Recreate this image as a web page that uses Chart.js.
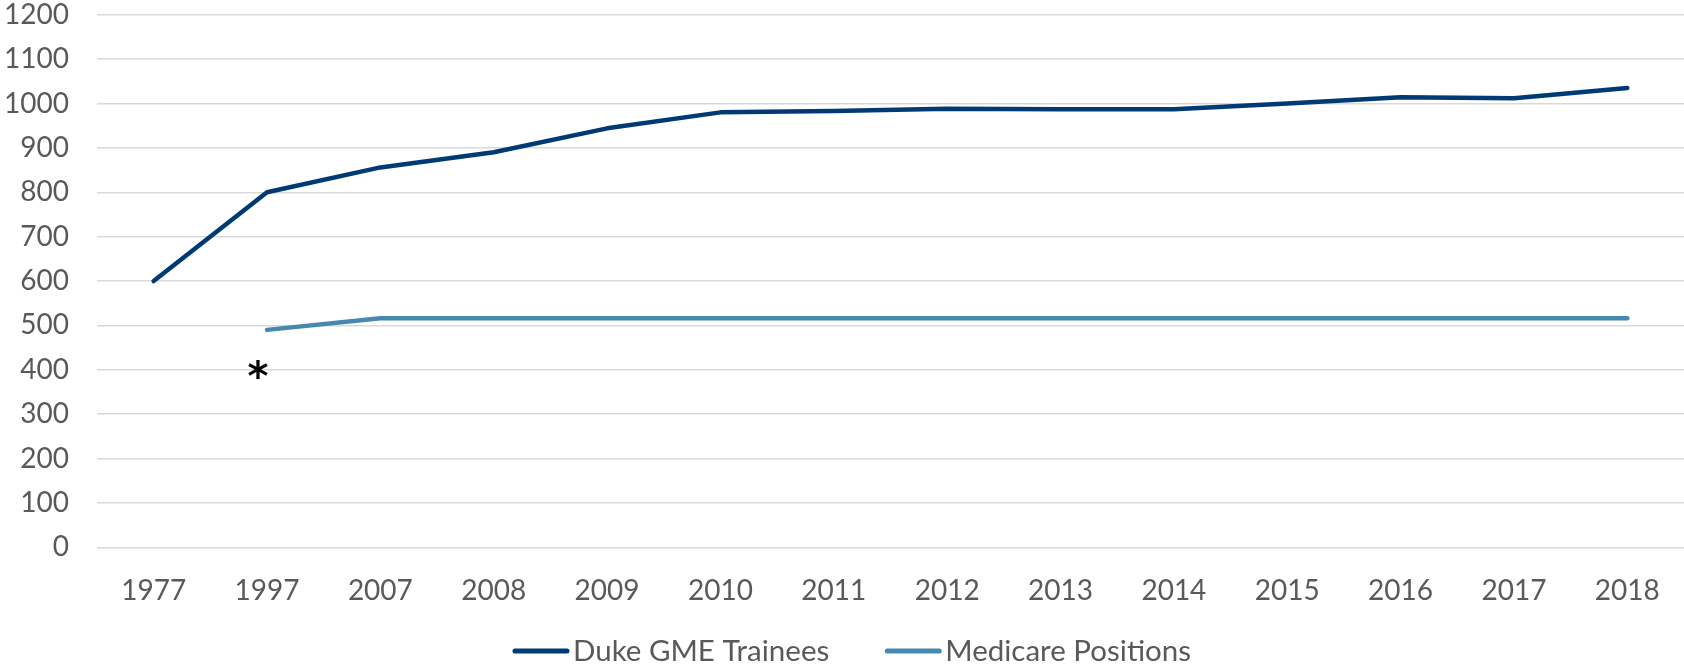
<!DOCTYPE html>
<html>
<head>
<meta charset="utf-8">
<script src="https://cdn.jsdelivr.net/npm/chart.js@4.4.0/dist/chart.umd.min.js"></script>
<style>
  html, body { margin: 0; padding: 0; background: #fff; }
  #wrap { width: 1684px; height: 664px; }
</style>
</head>
<body>
<div id="wrap"><canvas id="chart" width="1684" height="664"></canvas></div>
<script>
const years = ['1977', '1997', '2007', '2008', '2009', '2010', '2011', '2012', '2013', '2014', '2015', '2016', '2017', '2018'];
const dukeTrainees = [600, 800, 856, 890, 944, 980, 983, 988, 987, 987, 1000, 1014, 1012, 1035];
const medicarePositions = [null, 490, 516, 516, 516, 516, 516, 516, 516, 516, 516, 516, 516, 516];
const yTicks = [0, 100, 200, 300, 400, 500, 600, 700, 800, 900, 1000, 1100, 1200];

const tickColor = '#595959';
const font = { family: 'Lato', size: 28 };

// the "*" note under the 1997 Medicare point
const asteriskPlugin = {
  id: 'asterisk',
  afterDatasetsDraw(chart) {
    const x = chart.scales.x.getPixelForValue(1) - 9;
    const y = chart.scales.y.getPixelForValue(400);
    const c = chart.ctx;
    c.save();
    c.font = 'bold 40px "DejaVu Sans"';
    c.fillStyle = '#000';
    c.textAlign = 'center';
    c.textBaseline = 'middle';
    c.fillText('*', x, y + 10);
    c.restore();
  }
};

// legend drawn by hand: long line swatch, small gap to text, wide gap between items
const legendPlugin = {
  id: 'lineLegend',
  afterDraw(chart) {
    const c = chart.ctx;
    const sw = 56, gap = 4, spacing = 56;
    c.save();
    c.font = '29.5px Lato';
    c.textBaseline = 'middle';
    const items = chart.data.datasets.map(ds => ({ text: ds.label, color: ds.borderColor, w: c.measureText(ds.label).width }));
    const total = items.reduce((s, it) => s + sw + gap + it.w, 0) + spacing * (items.length - 1);
    let x = chart.width / 2 + 10 - total / 2;
    const y = 651;
    items.forEach(it => {
      c.strokeStyle = it.color;
      c.lineWidth = 5;
      c.lineCap = 'round';
      c.beginPath();
      c.moveTo(x + 2, y);
      c.lineTo(x + sw - 2, y);
      c.stroke();
      c.fillStyle = tickColor;
      c.fillText(it.text, x + sw + gap, y);
      x += sw + gap + it.w + spacing;
    });
    c.restore();
  }
};

const chart = new Chart(document.getElementById('chart').getContext('2d'), {
  type: 'line',
  data: {
    labels: years,
    datasets: [
      {
        label: 'Duke GME Trainees',
        data: dukeTrainees,
        borderColor: '#003A75',
        backgroundColor: '#003A75',
        borderWidth: 4.5,
        borderCapStyle: 'round',
        borderJoinStyle: 'round',
        pointRadius: 0,
        tension: 0
      },
      {
        label: 'Medicare Positions',
        data: medicarePositions,
        borderColor: '#4589AE',
        backgroundColor: '#4589AE',
        borderWidth: 4.5,
        borderCapStyle: 'round',
        borderJoinStyle: 'round',
        pointRadius: 0,
        tension: 0
      }
    ]
  },
  options: {
    responsive: false,
    animation: false,
    layout: { padding: { left: 4, right: 0, top: 0, bottom: 37 } },
    scales: {
      x: {
        offset: true,
        grid: { display: false },
        border: { display: false },
        ticks: { color: tickColor, font, padding: 19, maxRotation: 0 }
      },
      y: {
        min: 0,
        max: 1200,
        afterBuildTicks(axis) { axis.ticks = yTicks.map(v => ({ value: v })); },
        grid: { color: '#D9D9D9', lineWidth: 1.5, drawTicks: true, tickLength: 28, tickColor: 'rgba(0,0,0,0)' },
        border: { display: false },
        ticks: { color: tickColor, font: { family: 'Lato', size: 28, lineHeight: 1.05 }, padding: 0, callback: v => String(v) }
      }
    },
    plugins: {
      legend: { display: false },
      tooltip: { enabled: false }
    }
  },
  plugins: [asteriskPlugin, legendPlugin]
});
</script>
</body>
</html>
